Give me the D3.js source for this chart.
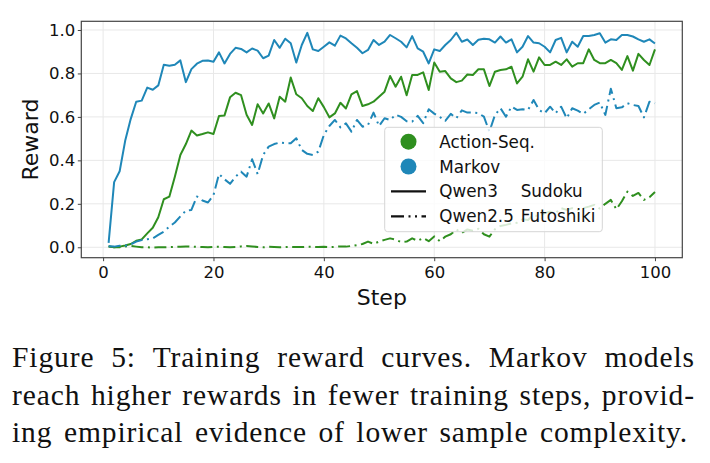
<!DOCTYPE html>
<html>
<head>
<meta charset="utf-8">
<script src="https://cdn.jsdelivr.net/npm/d3@7"></script>
<style>
  body { margin: 0; background: #fff; }
  svg { display: block; }
</style>
</head>
<body>
<div id="chart"></div>
<script>
// training steps
var steps = d3.range(1, 101);

// Markov, Qwen3 Sudoku
var markovSudoku = [
  0.02, 0.30, 0.35, 0.49, 0.59, 0.67, 0.675, 0.735, 0.725, 0.745,
  0.84, 0.835, 0.84, 0.86, 0.76, 0.82, 0.845, 0.858, 0.86, 0.854,
  0.897, 0.846, 0.89, 0.918, 0.913, 0.897, 0.915, 0.905, 0.87, 0.882,
  0.954, 0.918, 0.96, 0.939, 0.85, 0.931, 0.987, 0.911, 0.903, 0.923,
  0.943, 0.928, 0.974, 0.961, 0.939, 0.918, 0.893, 0.908, 0.954, 0.931,
  0.946, 0.977, 0.962, 0.946, 0.92, 0.972, 0.915, 0.90, 0.846, 0.911,
  0.903, 0.931, 0.954, 0.987, 0.946, 0.956, 0.931, 0.955, 0.96, 0.957,
  0.942, 0.970, 0.942, 0.957, 0.897, 0.923, 0.972, 0.942, 0.939, 0.923,
  0.897, 0.954, 0.964, 0.897, 0.946, 0.923, 0.972, 0.972, 0.977, 0.985,
  0.942, 0.957, 0.954, 0.977, 0.977, 0.970, 0.957, 0.946, 0.957, 0.938
];

// Action-Seq., Qwen3 Sudoku
var actionSudoku = [
  0.005, 0.0, 0.003, 0.008, 0.015, 0.03, 0.036, 0.064, 0.09, 0.138,
  0.221, 0.233, 0.325, 0.425, 0.475, 0.537, 0.514, 0.521, 0.529, 0.521,
  0.604, 0.607, 0.69, 0.711, 0.70, 0.61, 0.563, 0.658, 0.616, 0.662,
  0.593, 0.693, 0.67, 0.781, 0.704, 0.686, 0.65, 0.627, 0.686, 0.645,
  0.598, 0.616, 0.665, 0.639, 0.704, 0.719, 0.65, 0.658, 0.67, 0.693,
  0.716, 0.788, 0.739, 0.785, 0.70, 0.793, 0.793, 0.805, 0.724, 0.85,
  0.808, 0.811, 0.777, 0.760, 0.767, 0.795, 0.793, 0.819, 0.819, 0.742,
  0.808, 0.816, 0.819, 0.831, 0.754, 0.785, 0.865, 0.808, 0.874, 0.839,
  0.839, 0.854, 0.839, 0.865, 0.831, 0.847, 0.847, 0.911, 0.862, 0.847,
  0.847, 0.862, 0.847, 0.816, 0.88, 0.813, 0.89, 0.862, 0.839, 0.911
];

// Markov, Qwen2.5 Futoshiki
var markovFutoshiki = [
  0.005, 0.003, 0.007, 0.007, 0.013, 0.026, 0.033, 0.037, 0.041, 0.057,
  0.072, 0.095, 0.114, 0.142, 0.169, 0.172, 0.234, 0.215, 0.206, 0.24,
  0.337, 0.313, 0.292, 0.325, 0.348, 0.325, 0.405, 0.337, 0.425, 0.463,
  0.475, 0.482, 0.479, 0.479, 0.502, 0.448, 0.43, 0.425, 0.44, 0.517,
  0.558, 0.586, 0.552, 0.57, 0.532, 0.586, 0.555, 0.563, 0.62, 0.558,
  0.594, 0.586, 0.61, 0.60, 0.58, 0.578, 0.605, 0.571, 0.635, 0.615,
  0.60, 0.582, 0.614, 0.594, 0.63, 0.62, 0.62, 0.617, 0.601, 0.532,
  0.609, 0.64, 0.601, 0.647, 0.632, 0.635, 0.632, 0.678, 0.632, 0.617,
  0.647, 0.617, 0.647, 0.594, 0.64, 0.629, 0.614, 0.635, 0.655, 0.666,
  0.609, 0.73, 0.64, 0.644, 0.663, 0.655, 0.65, 0.598, 0.67, 0.663
];

// Action-Seq., Qwen2.5 Futoshiki
var actionFutoshiki = [
  0.003, 0.0, 0.0, 0.004, 0.006, 0.003, 0.0, 0.0, -0.002, 0.0,
  0.0, 0.001, 0.002, 0.002, 0.004, 0.003, 0.002, 0.001, 0.0, 0.002,
  0.002, 0.001, 0.0, 0.001, 0.004, 0.006, 0.004, 0.001, 0.0, 0.002,
  0.001, 0.0, 0.001, 0.002, 0.001, 0.001, 0.002, 0.002, 0.001, 0.002,
  0.001, 0.002, 0.004, 0.003, 0.006, 0.01, 0.015, 0.026, 0.016, 0.026,
  0.034, 0.041, 0.035, 0.024, 0.026, 0.041, 0.03, 0.042, 0.028, 0.05,
  0.028, 0.049, 0.06, 0.082, 0.066, 0.082, 0.076, 0.085, 0.06, 0.049,
  0.083, 0.098, 0.103, 0.11, 0.113, 0.129, 0.126, 0.149, 0.141, 0.157,
  0.164, 0.157, 0.18, 0.172, 0.18, 0.172, 0.18, 0.187, 0.195, 0.178,
  0.20, 0.218, 0.175, 0.212, 0.256, 0.236, 0.25, 0.218, 0.23, 0.254
];

var xTicks = [0, 20, 40, 60, 80, 100];
var yTicks = [0.0, 0.2, 0.4, 0.6, 0.8, 1.0];
var methods = ["Action-Seq.", "Markov"];
var setups = [["Qwen3", "Sudoku"], ["Qwen2.5", "Futoshiki"]];
var captionLines = [
  "Figure 5: Training reward curves. Markov models",
  "reach higher rewards in fewer training steps, provid-",
  "ing empirical evidence of lower sample complexity."
];

var width = 710, height = 463;
var green = "#2f8f1f", blue = "#1f87b8";
var dashDot = "12,4.5,2,4.5";
var legendDash = "13,4.5,2,4.5,2,4.5";
var font = "'DejaVu Sans', sans-serif";

var svg = d3.select("#chart").append("svg")
    .attr("width", width)
    .attr("height", height);

// plot box (window.top is taken, so no plain "top")
var pLeft = 81.3, pRight = 682.3, pTop = 21.3, pBottom = 257.7;

var x = d3.scaleLinear().domain([-3.95, 104.95]).range([pLeft, pRight]);
var y = d3.scaleLinear().domain([-0.048, 1.04]).range([pBottom, pTop]);

// grid
var g = svg.append("g");
g.selectAll(".gx").data(xTicks).enter().append("line")
    .attr("x1", function(d) { return x(d); }).attr("x2", function(d) { return x(d); })
    .attr("y1", pTop).attr("y2", pBottom)
    .attr("stroke", "#e8e8e8").attr("stroke-width", 1);
g.selectAll(".gy").data(yTicks).enter().append("line")
    .attr("y1", function(d) { return y(d); }).attr("y2", function(d) { return y(d); })
    .attr("x1", pLeft).attr("x2", pRight)
    .attr("stroke", "#e8e8e8").attr("stroke-width", 1);

// series
var series = [
  {vals: actionSudoku, color: green, dash: null},
  {vals: markovSudoku, color: blue, dash: null},
  {vals: actionFutoshiki, color: green, dash: dashDot},
  {vals: markovFutoshiki, color: blue, dash: dashDot}
];

var line = d3.line()
    .x(function(d, i) { return x(steps[i]); })
    .y(function(d) { return y(d); });

svg.append("g").selectAll("path").data(series).enter().append("path")
    .attr("d", function(d) { return line(d.vals); })
    .attr("fill", "none")
    .attr("stroke", function(d) { return d.color; })
    .attr("stroke-width", 2)
    .attr("stroke-linejoin", "round")
    .attr("stroke-dasharray", function(d) { return d.dash; });

// axes
var xAxis = svg.append("g")
    .attr("transform", "translate(0," + pBottom + ")")
    .call(d3.axisBottom(x).tickValues(xTicks).tickSize(3.5).tickPadding(5).tickFormat(d3.format("d")));
var yAxis = svg.append("g")
    .attr("transform", "translate(" + pLeft + ",0)")
    .call(d3.axisLeft(y).tickValues(yTicks).tickSize(3.5).tickPadding(2.5).tickFormat(d3.format(".1f")));

[xAxis, yAxis].forEach(function(a) {
  a.select(".domain").remove();
  a.selectAll(".tick line").attr("stroke", "#444");
  a.selectAll(".tick text").attr("font-family", font).attr("font-size", 16.5).attr("fill", "#111");
});

// frame
svg.append("rect")
    .attr("x", pLeft).attr("y", pTop)
    .attr("width", pRight - pLeft).attr("height", pBottom - pTop)
    .attr("fill", "none").attr("stroke", "#444").attr("stroke-width", 1.2);

// axis labels
svg.append("text")
    .attr("x", (pLeft + pRight) / 2).attr("y", 305)
    .attr("text-anchor", "middle")
    .attr("font-family", font).attr("font-size", 22).attr("fill", "#111")
    .text("Step");
svg.append("text")
    .attr("transform", "translate(38," + ((pTop + pBottom) / 2) + ") rotate(-90)")
    .attr("text-anchor", "middle")
    .attr("font-family", font).attr("font-size", 22).attr("fill", "#111")
    .text("Reward");

// legend
var lg = svg.append("g");
lg.append("rect")
    .attr("x", 384.7).attr("y", 127.3)
    .attr("width", 217.6).attr("height", 104.4)
    .attr("rx", 3)
    .attr("fill", "#fff").attr("fill-opacity", 0.8)
    .attr("stroke", "#d5d5d5").attr("stroke-width", 1);

var rowY = [141.7, 166.5, 191.3, 216.3];
lg.selectAll(".mk").data(methods).enter().append("circle")
    .attr("cx", 408.5)
    .attr("cy", function(d, i) { return rowY[i]; })
    .attr("r", 8)
    .attr("fill", function(d, i) { return i === 0 ? green : blue; });
lg.selectAll(".mt").data(methods).enter().append("text")
    .attr("x", 439.3)
    .attr("y", function(d, i) { return rowY[i] + 6; })
    .attr("font-family", font).attr("font-size", 16.8).attr("fill", "#111")
    .text(function(d) { return d; });

lg.selectAll(".ln").data(setups).enter().append("line")
    .attr("x1", 391).attr("x2", 426)
    .attr("y1", function(d, i) { return rowY[i + 2]; })
    .attr("y2", function(d, i) { return rowY[i + 2]; })
    .attr("stroke", "#111").attr("stroke-width", 2.2)
    .attr("stroke-dasharray", function(d, i) { return i === 1 ? legendDash : null; });
lg.selectAll(".s1").data(setups).enter().append("text")
    .attr("x", 439.3)
    .attr("y", function(d, i) { return rowY[i + 2] + 6; })
    .attr("font-family", font).attr("font-size", 16.8).attr("fill", "#111")
    .text(function(d) { return d[0]; });
lg.selectAll(".s2").data(setups).enter().append("text")
    .attr("x", 520.7)
    .attr("y", function(d, i) { return rowY[i + 2] + 6; })
    .attr("font-family", font).attr("font-size", 16.8).attr("fill", "#111")
    .text(function(d) { return d[1]; });

// caption, justified like the LaTeX paragraph
var capX0 = 12, capX1 = 695, capLast = 688;
var capBase = [367, 405, 442];
var capFont = "'Liberation Serif', 'Times New Roman', serif";
var capSize = 29.5;

captionLines.forEach(function(txt, li) {
  var words = txt.split(" ");
  var cg = svg.append("g");
  var nodes = words.map(function(w) {
    return cg.append("text")
        .attr("y", capBase[li])
        .attr("font-family", capFont).attr("font-size", capSize)
        .attr("letter-spacing", 0.9).attr("fill", "#111")
        .text(w);
  });
  var widths = nodes.map(function(n) { return n.node().getComputedTextLength(); });
  var total = d3.sum(widths);
  var end = li < 2 ? capX1 : capLast;
  var gap = (end - capX0 - total) / (words.length - 1);
  var cx = capX0;
  nodes.forEach(function(n, i) {
    n.attr("x", cx);
    cx += widths[i] + gap;
  });
});
</script>
</body>
</html>
